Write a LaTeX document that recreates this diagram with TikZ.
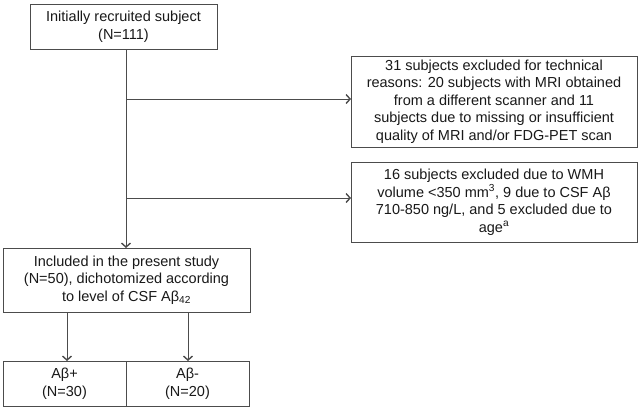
\documentclass[tikz,border=0pt]{standalone}
\usepackage{fontspec}
\setmainfont{Liberation Sans}
\usepackage{tikz}
\usetikzlibrary{positioning,arrows.meta}

\begin{document}
\begin{tikzpicture}[x=1pt,y=-1pt]
        \tikzset{
            BoxStyle/.style = {
                draw = black!70,
                line width = 1pt,
                fill = white,
                inner sep = 0pt,
                outer sep = 0pt,
                align = center,
                text = black!90,
                font = \fontsize{14.5}{17.5}\selectfont}
                }
        \tikzset{LinkStyle/.style = {draw = black!70, line width = 1pt,
                -{Straight Barb[length = 4pt, width = 9pt, line width = 1.4pt]}}}
    \useasboundingbox (0,0) rectangle (641,410);
    \node[BoxStyle, minimum width = 187pt, minimum height = 45pt] (Init) at (123.5,26.5)
        {Initially recruited subject\\(N=111)};
    \node[BoxStyle, minimum width = 286pt, minimum height = 91pt] (Tech) at (494,101.5)
        {31 subjects excluded for technical\\reasons: 20 subjects with MRI obtained\\from a different scanner and 11\\subjects due to missing or insufficient\\quality of MRI and/or FDG-PET scan};
    \node[BoxStyle, minimum width = 286pt, minimum height = 80pt] (Wmh) at (494,202)
        {16 subjects excluded due to WMH\\volume <350 mm\textsuperscript{3}, 9 due to CSF Aβ\\710-850 ng/L, and 5 excluded due to\\age\textsuperscript{a}};
    \node[BoxStyle, minimum width = 247pt, minimum height = 64pt] (Incl) at (126.5,280)
        {Included in the present study\\(N=50), dichotomized according\\to level of CSF Aβ\textsubscript{42}};
    \node[BoxStyle, minimum width = 123pt, minimum height = 45pt] (Pos) at (64.5,383.5)
        {Aβ+\\(N=30)};
    \node[BoxStyle, minimum width = 123pt, minimum height = 45pt, right = 0pt of Pos] (Neg)
        {Aβ-\\(N=20)};
    \coordinate (Top) at (126,49);
    \coordinate (JoinA) at (126,99);
    \coordinate (JoinB) at (126,198);
    \draw[LinkStyle] (Top) -- (Incl.north -| Top);
    \draw[LinkStyle] (JoinA) -- (Tech.west |- JoinA);
    \draw[LinkStyle] (JoinB) -- (Wmh.west |- JoinB);
    \draw[LinkStyle] ([xshift = 2.5pt]Incl.south -| Pos) -- ([xshift = 2.5pt]Pos.north);
    \draw[LinkStyle] ([xshift = 0.5pt]Incl.south -| Neg) -- ([xshift = 0.5pt]Neg.north);
    \end{tikzpicture}
\end{document}
